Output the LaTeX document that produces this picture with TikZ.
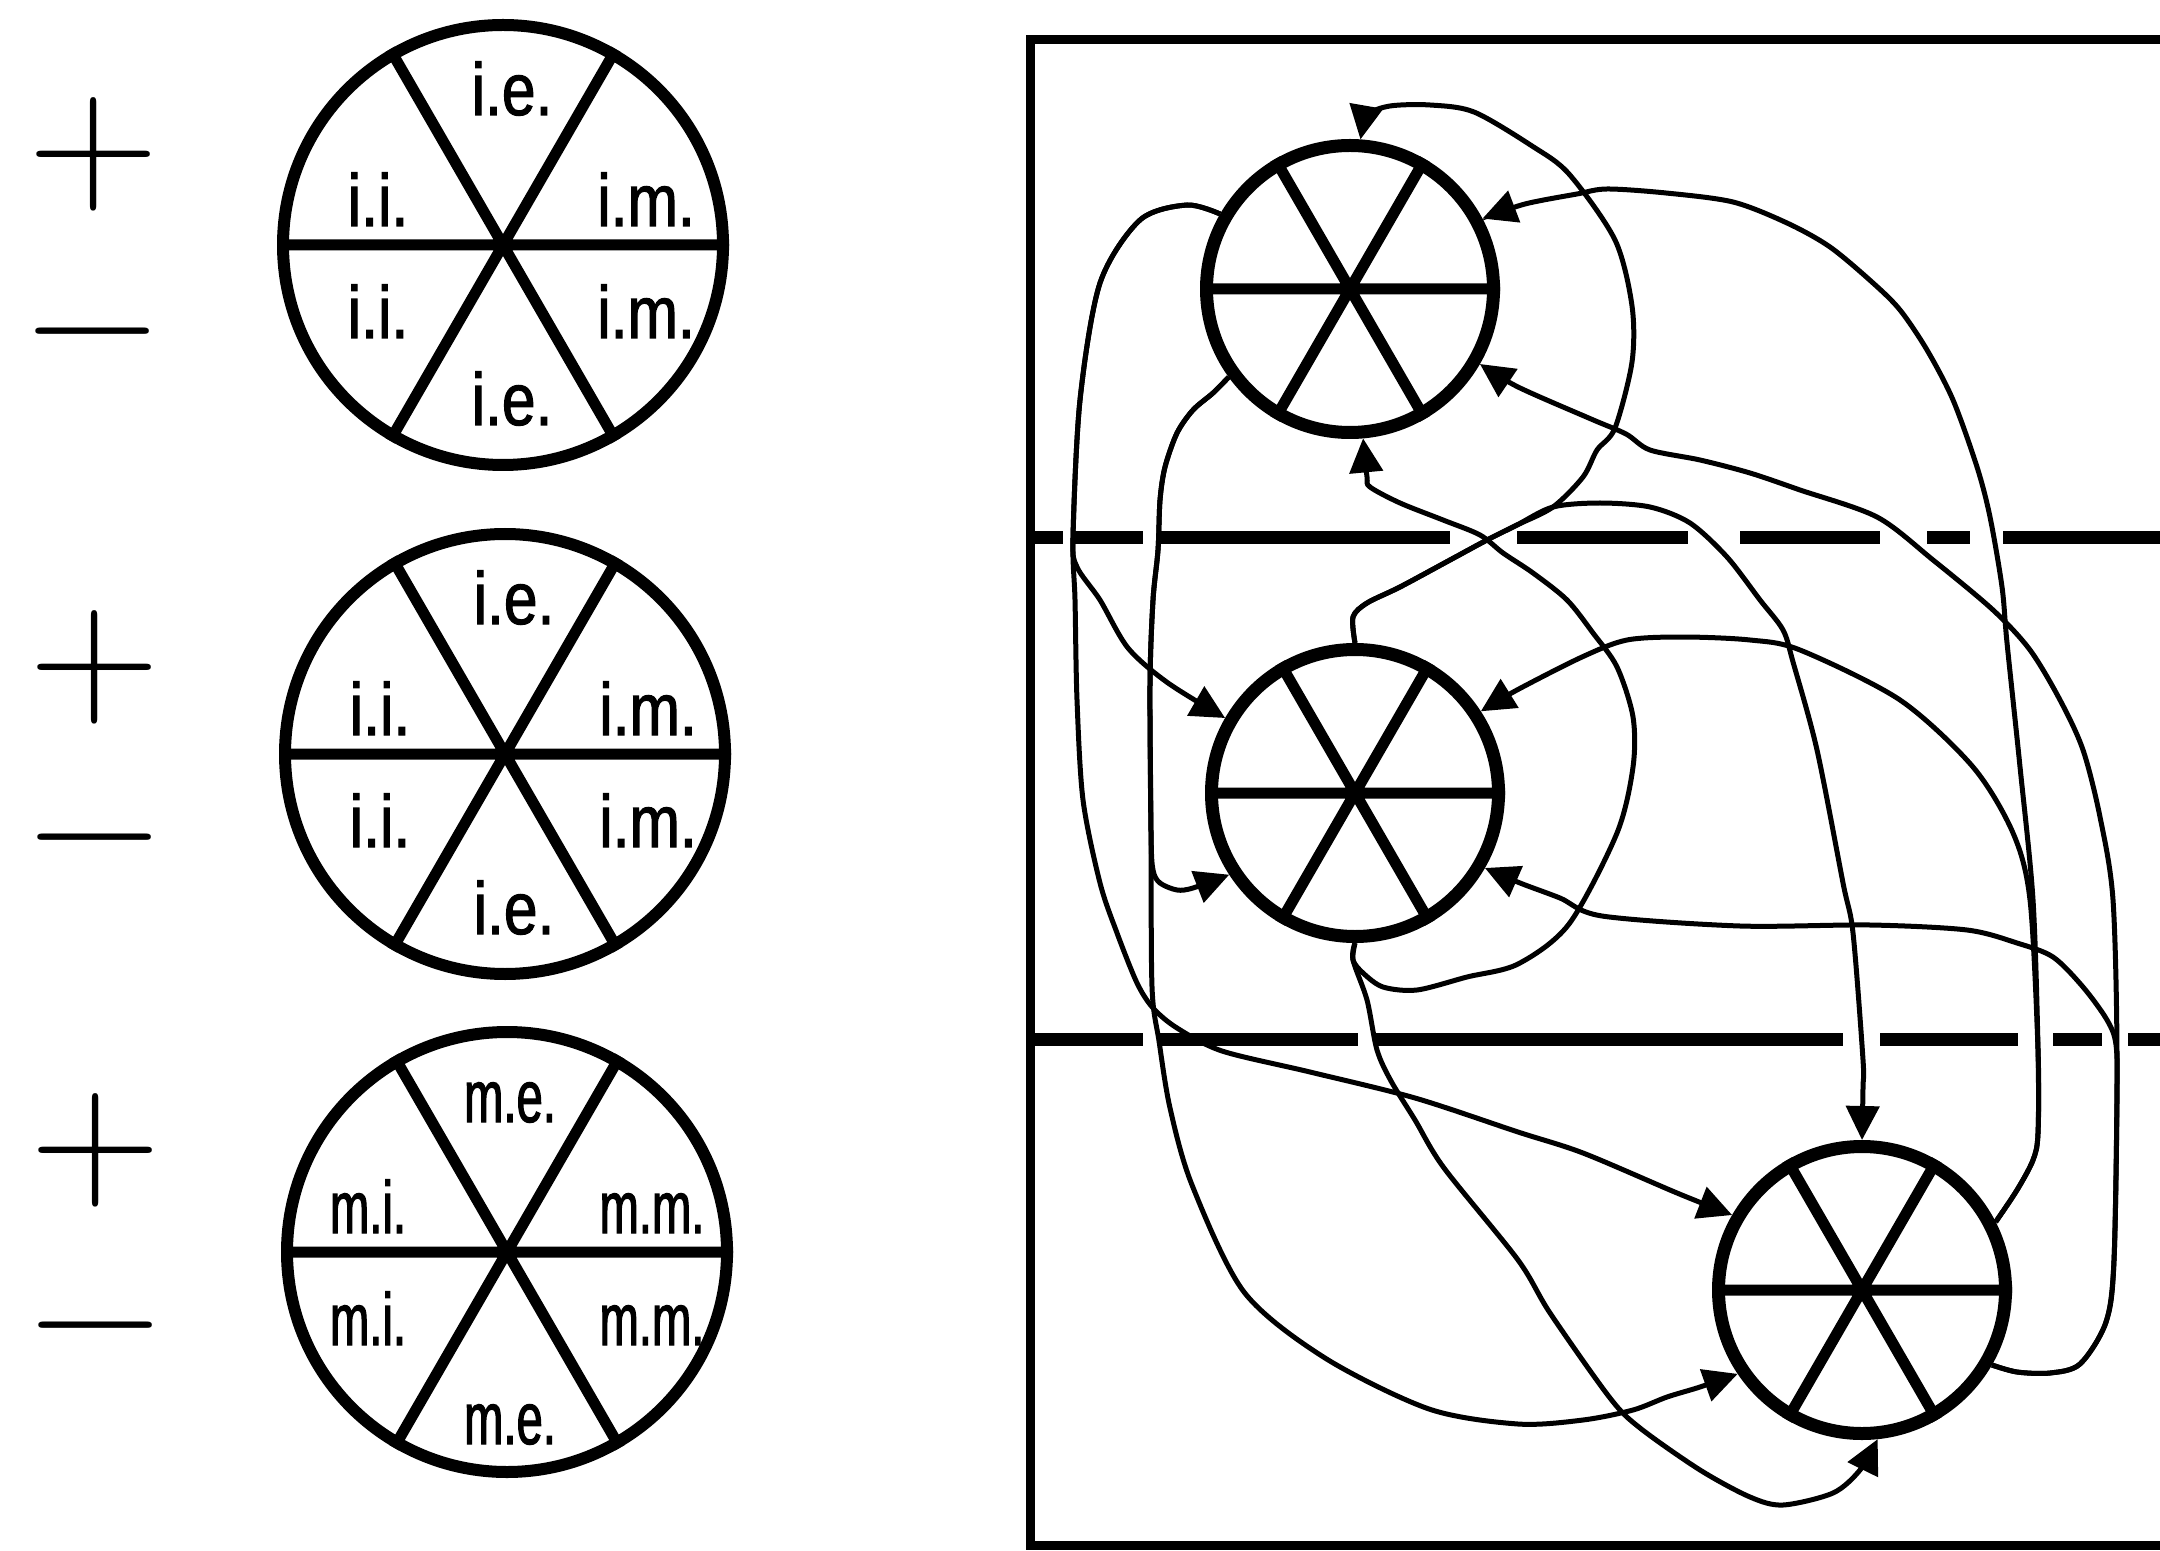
\documentclass[tikz,border=0pt]{standalone}
\usepackage{fontspec}
\newfontfamily\segfamily{Liberation Sans}[FakeStretch=0.82,FakeBold=1.5]
\newfontfamily\segnarrowfamily{Liberation Sans}[FakeStretch=0.64,FakeBold=1.5]
\newcommand{\segfont}{\segfamily\fontsize{21pt}{21pt}\selectfont}
\newcommand{\segnarrow}{\segnarrowfamily\fontsize{21pt}{21pt}\selectfont}
\newcommand{\signfont}{\fontsize{51.5pt}{52pt}\selectfont}
\usetikzlibrary{arrows.meta,calc}

\begin{document}
\begin{tikzpicture}[x=1cm,y=-1cm,
  wheel/.style={circle,draw,line width=0.13cm,minimum size=2.87cm,inner sep=0pt},
  bigwheel/.style={circle,draw,line width=0.12cm,minimum size=4.40cm,inner sep=0pt},
  spoke/.style={line width=0.11cm},
  link/.style={line width=0.05cm,-{Triangle[length=0.34cm,width=0.33cm]}},
  divider/.style={line width=0.13cm},
  seglabel/.style={inner sep=0pt,anchor=base},
  sign/.style={font=\signfont,inner sep=0pt}]
\useasboundingbox (0,0) rectangle (21.6,15.51);

% legend wheels with their signs
\node[bigwheel] (legendA) at (5.03,2.45) {};
\node[bigwheel] (legendB) at (5.05,7.54) {};
\node[bigwheel] (legendC) at (5.07,12.52) {};

\node[sign] (plusA) at (0.94,1.54) {+};
\node[sign] (minusA) at (0.93,3.31) {−\vphantom{+}};
\node[sign] (plusB) at (0.95,6.67) {+};
\node[sign] (minusB) at (0.95,8.37) {−\vphantom{+}};
\node[sign] (plusC) at (0.96,11.50) {+};
\node[sign] (minusC) at (0.96,13.25) {−\vphantom{+}};

% frame and the two dividers
\draw[line width=0.09cm] (21.6,0.40) -| (10.30,15.45) -- (21.6,15.45);
\draw[divider,dash pattern=on 0.33cm off 0.12cm on 0.68cm off 0.17cm on 2.90cm off 0.67cm on 1.71cm off 0.52cm on 1.40cm off 0.47cm on 0.43cm off 0.33cm on 1.57cm] (10.30,5.38) -- (21.60,5.38);
\draw[divider,dash pattern=on 1.13cm off 0.14cm on 2.01cm off 0.17cm on 4.68cm off 0.37cm on 1.38cm off 0.35cm on 0.49cm off 0.26cm on 0.32cm] (10.30,10.39) -- (21.60,10.39);

% the three wheels in the frame
\node[wheel] (wheelA) at (13.50,2.89) {};
\node[wheel] (wheelB) at (13.55,7.93) {};
\node[wheel] (wheelC) at (18.62,12.90) {};

\foreach \w in {legendA,legendB,legendC,wheelA,wheelB,wheelC}
  \draw[spoke] (\w.180) -- (\w.0) (\w.60) -- (\w.240) (\w.120) -- (\w.300);

\foreach \c/\p/\sx/\dx/\db/\f in {legendA/i/0.09/1.34/1.80/\segfont,legendB/i/0.09/1.34/1.80/\segfont,legendC/m/0.03/1.42/1.92/\segnarrow} {
  \node[seglabel,font=\f] (\c-t) at ($(\c)+(\sx,-1.30)$) {\p.e.};
  \node[seglabel,font=\f] (\c-ul) at ($(\c)+({\sx-\dx},-0.19)$) {\p.i.};
  \node[seglabel,font=\f] (\c-ur) at ($(\c)+({\sx+\dx},-0.19)$) {\p.m.};
  \node[seglabel,font=\f] (\c-ll) at ($(\c)+({\sx-\dx},0.93)$) {\p.i.};
  \node[seglabel,font=\f] (\c-lr) at ($(\c)+({\sx+\dx},0.93)$) {\p.m.};
  \node[seglabel,font=\f] (\c-b) at ($(\c)+(\sx,\db)$) {\p.e.};
}

% A to B and C
\draw[link] plot[smooth] coordinates {(wheelA.150) (11.87,2.05) (11.40,2.20) (11.00,2.83) (10.80,4.00) (10.73,5.37) (10.77,5.67) (11.00,6.00) (11.28,6.48) (11.68,6.83) (wheelB.150)};
\draw[link] plot[smooth] coordinates {(wheelA.150) (11.87,2.05) (11.40,2.20) (11.00,2.83) (10.80,4.00) (10.73,5.37) (10.75,6.00) (10.77,7.00) (10.83,8.00) (11.00,8.83) (11.17,9.33) (11.37,9.83) (11.53,10.08) (11.77,10.28) (12.22,10.51) (13.10,10.72) (14.15,10.98) (15.18,11.32) (15.83,11.53) (16.77,11.93) (wheelC.150)};
\draw[link] plot[smooth] coordinates {(wheelA.216) (12.13,3.93) (11.93,4.10) (11.77,4.33) (11.65,4.67) (11.60,5.00) (11.58,5.50) (11.53,6.00) (11.50,6.83) (11.51,8.33) (11.53,8.70) (11.60,8.83) (11.77,8.90) (11.93,8.88) (wheelB.213)};
\draw[link] plot[smooth] coordinates {(wheelA.216) (12.13,3.93) (11.93,4.10) (11.77,4.33) (11.65,4.67) (11.60,5.00) (11.58,5.50) (11.53,6.00) (11.50,6.83) (11.51,8.33) (11.52,9.87) (11.59,10.41) (11.70,11.08) (11.92,11.85) (12.44,12.92) (13.25,13.58) (14.29,14.09) (15.18,14.24) (15.83,14.20) (16.33,14.10) (16.67,13.97) (17.00,13.87) (wheelC.214)};

% B to A and C
\draw[link] plot[smooth] coordinates {(wheelB.90) (13.53,6.17) (13.67,6.03) (14.00,5.87) (14.50,5.60) (14.87,5.40) (15.17,5.25) (15.53,5.07) (15.83,4.77) (15.97,4.50) (16.15,4.28) (16.32,3.62) (16.32,3.06) (16.15,2.40) (15.69,1.74) (15.32,1.46) (14.74,1.12) (14.30,1.05) (13.90,1.06) (13.68,1.15) (wheelA.86)};
\draw[link] plot[smooth] coordinates {(wheelB.90) (13.53,6.17) (13.67,6.03) (14.00,5.87) (14.50,5.60) (14.87,5.40) (15.17,5.25) (15.53,5.07) (16.00,5.03) (16.50,5.07) (16.90,5.23) (17.27,5.57) (17.60,6.00) (17.83,6.30) (17.93,6.62) (18.17,7.50) (18.43,8.83) (18.53,9.33) (18.63,10.60) (18.63,10.87) (wheelC.90)};
\draw[link] plot[smooth] coordinates {(wheelB.270) (13.53,9.60) (13.63,9.73) (13.83,9.87) (14.17,9.90) (14.67,9.77) (15.18,9.64) (15.69,9.24) (16.17,8.33) (16.33,7.67) (16.33,7.17) (16.17,6.67) (15.93,6.33) (15.67,6.00) (15.33,5.73) (15.03,5.53) (14.80,5.35) (14.43,5.20) (14.00,5.03) (13.70,4.87) (13.67,4.77) (wheelA.275)};
\draw[link] plot[smooth] coordinates {(wheelB.270) (13.53,9.60) (13.67,10.00) (13.77,10.50) (13.91,10.81) (14.15,11.20) (14.44,11.68) (15.18,12.60) (15.50,13.13) (16.10,13.98) (16.40,14.28) (17.00,14.70) (17.50,14.97) (17.83,15.05) (18.33,14.93) (18.60,14.70) (wheelC.276)};

% C to A and B
\draw[link] plot[smooth] coordinates {(wheelC.27) (20.17,11.90) (20.33,11.60) (20.38,11.33) (20.38,10.50) (20.33,9.00) (20.20,7.67) (20.07,6.43) (20.02,5.87) (19.90,5.17) (19.77,4.67) (19.53,4.00) (19.27,3.50) (19.00,3.10) (18.73,2.83) (18.30,2.47) (17.87,2.23) (17.33,2.02) (16.66,1.93) (16.07,1.89) (15.77,1.94) (15.25,2.04) (wheelA.28)};
\draw[link] plot[smooth] coordinates {(wheelC.27) (20.17,11.90) (20.33,11.60) (20.38,11.33) (20.38,10.50) (20.30,9.00) (20.13,8.33) (19.73,7.67) (19.00,7.00) (18.00,6.50) (17.50,6.40) (16.83,6.37) (16.27,6.40) (15.82,6.57) (15.17,6.90) (wheelB.33)};
\draw[link] plot[smooth] coordinates {(wheelC.330) (20.17,13.72) (20.50,13.73) (20.80,13.64) (21.06,13.22) (21.14,12.60) (21.17,10.60) (21.13,9.00) (21.00,8.17) (20.83,7.50) (20.60,7.00) (20.30,6.50) (19.93,6.10) (19.33,5.60) (18.77,5.17) (18.00,4.90) (17.50,4.73) (17.00,4.60) (16.50,4.50) (16.26,4.34) (15.91,4.19) (15.18,3.87) (wheelA.330)};
\draw[link] plot[smooth] coordinates {(wheelC.330) (20.17,13.72) (20.50,13.73) (20.80,13.64) (21.06,13.22) (21.14,12.60) (21.17,11.00) (21.16,10.45) (21.07,10.20) (20.83,9.87) (20.53,9.57) (20.17,9.43) (19.67,9.30) (18.70,9.25) (17.40,9.26) (16.02,9.16) (15.60,8.98) (15.20,8.83) (wheelB.330)};

\end{tikzpicture}
\end{document}
